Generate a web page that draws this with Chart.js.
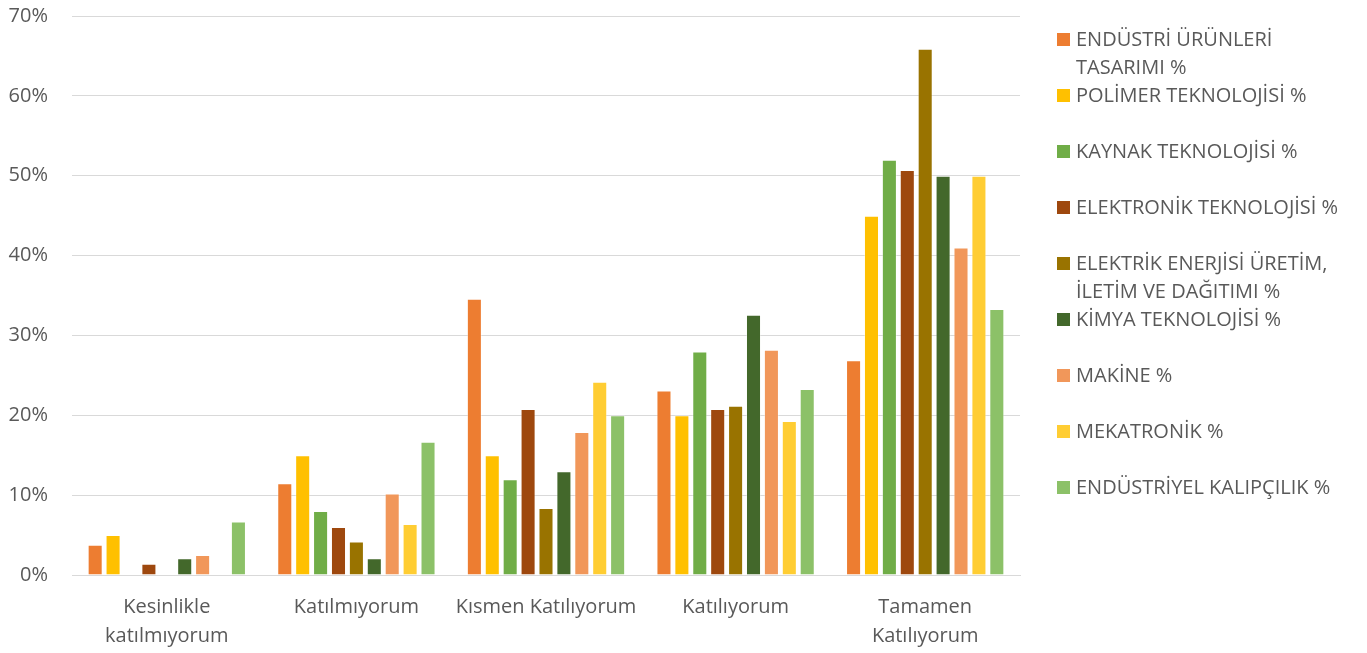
<!DOCTYPE html>
<html>
<head>
<meta charset="utf-8">
<script src="https://cdn.jsdelivr.net/npm/chart.js@4/dist/chart.umd.min.js"></script>
<style>
    body { margin: 0; background: #fff; }
    #wrap { position: relative; width: 1367px; height: 653px; }
    #legend { position: absolute; left: 1057px; top: 25px; width: 300px; font-family: "Open Sans", sans-serif; font-size: 20px; color: #595959; }
    .item { display: flex; align-items: flex-start; height: 56px; line-height: 28px; }
    .box { width: 13px; height: 13px; margin-top: 8px; margin-right: 6px; flex: none; }
</style>
</head>
<body>
<div id="wrap">
    <canvas id="myChart" width="1367" height="653"></canvas>
    <div id="legend"></div>
</div>
<script>
/* kategori ve seri verileri */
let categories = [['Kesinlikle', 'katılmıyorum'], 'Katılmıyorum', 'Kısmen Katılıyorum', 'Katılıyorum', ['Tamamen', 'Katılıyorum']];
let seriesNames = [
    'ENDÜSTRİ ÜRÜNLERİ TASARIMI %',
    'POLİMER TEKNOLOJİSİ %',
    'KAYNAK TEKNOLOJİSİ %',
    'ELEKTRONİK TEKNOLOJİSİ %',
    'ELEKTRİK ENERJİSİ ÜRETİM, İLETİM VE DAĞITIMI %',
    'KİMYA TEKNOLOJİSİ %',
    'MAKİNE %',
    'MEKATRONİK %',
    'ENDÜSTRİYEL KALIPÇILIK %'
];
let endustri = [3.8, 11.5, 34.6, 23.1, 26.9];
let polimer = [5, 15, 15, 20, 45];
let kaynak = [0, 8, 12, 28, 52];
let elektronik = [1.4, 6, 20.8, 20.8, 50.7];
let elektrik = [0, 4.2, 8.4, 21.2, 65.9];
let kimya = [2.1, 2.1, 13, 32.6, 50];
let makine = [2.5, 10.2, 17.9, 28.2, 41];
let mekatronik = [0, 6.4, 24.2, 19.3, 50];
let kalipcilik = [6.7, 16.7, 20, 23.3, 33.3];
let yTicks = [0, 10, 20, 30, 40, 50, 60, 70];

let seriesValues = [endustri, polimer, kaynak, elektronik, elektrik, kimya, makine, mekatronik, kalipcilik];
let colorList = ['#ED7D31', '#FFC000', '#70AD47', '#9E480E', '#997300', '#43682B', '#F1975A', '#FFCD33', '#8CC168'];

let datasets = [];
for (let i = 0; i < seriesNames.length; i++) {
    datasets.push({
        label: seriesNames[i],
        data: seriesValues[i],
        backgroundColor: colorList[i],
        borderColor: 'rgba(255,255,255,0.35)',
        borderWidth: 1
    });
}

let font = { family: '"Open Sans", sans-serif', size: 20, lineHeight: 1.45 };

let ctx = document.getElementById('myChart').getContext('2d');
let myChart = new Chart(ctx, {
    type: 'bar',
    data: {
        labels: categories,
        datasets: datasets
    },
    options: {
        responsive: false,
        animation: false,
        layout: { padding: { top: 0, right: 347, left: 0, bottom: 0 } },
        datasets: { bar: { categoryPercentage: 0.85, barPercentage: 0.84 } },
        plugins: {
            legend: { display: false },
            tooltip: { enabled: false }
        },
        scales: {
            x: {
                grid: { display: false },
                border: { display: true, color: '#d9d9d9', width: 1 },
                ticks: { color: '#595959', font: font, padding: 10, maxRotation: 0 },
                afterFit: function (scale) { scale.height = 78; }
            },
            y: {
                min: 0,
                max: 70,
                afterBuildTicks: function (scale) {
                    scale.ticks = yTicks.map(function (v) { return { value: v }; });
                },
                grid: { color: '#d9d9d9', lineWidth: 1, drawTicks: false },
                border: { display: false },
                ticks: {
                    color: '#595959',
                    font: { family: '"Open Sans", sans-serif', size: 20 },
                    padding: 24,
                    callback: function (v) { return v + '%'; }
                },
                afterFit: function (scale) {
                    scale.width = 72;
                    scale.paddingTop = 16;
                    scale.paddingBottom = 0;
                }
            }
        }
    }
});

// 범례 (HTML)
let legendHtml = '';
for (let i = 0; i < seriesNames.length; i++) {
    legendHtml += '<div class="item"><span class="box" style="background:' + colorList[i] + '"></span><span>' + seriesNames[i] + '</span></div>';
}
document.getElementById('legend').innerHTML = legendHtml;
</script>
</body>
</html>
